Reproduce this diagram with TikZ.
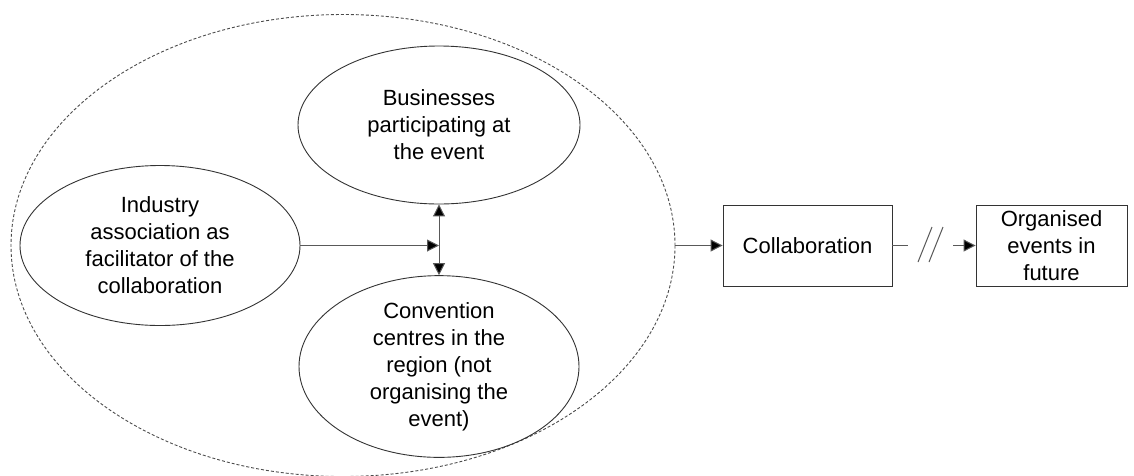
\documentclass[tikz,border=0pt]{standalone}
\usepackage{fontspec}
\setmainfont{Liberation Sans}
\usetikzlibrary{shapes.geometric,arrows.meta}
\begin{document}
\begin{tikzpicture}[x=1pt,y=-1pt,
  txt/.style={font=\fontsize{22}{27}\selectfont,align=center,text=black},
  oval/.style={draw=black!80,line width=0.9pt,ellipse,inner sep=0pt,txt},
  box/.style={draw=black!80,line width=0.9pt,rectangle,inner sep=0pt,txt},
  conn/.style={draw=black!65,line width=1pt},
  arr/.style={conn,-{Triangle[length=12pt,width=12pt,fill=black]}},
  darr/.style={conn,{Triangle[length=12pt,width=12pt,fill=black]}-{Triangle[length=12pt,width=12pt,fill=black]}},
  group/.style={draw=black!70,line width=0.9pt,dash pattern=on 3pt off 2pt,ellipse,inner sep=0pt}]
\useasboundingbox (0,0) rectangle (1134,475);
\node[group,minimum width=664pt,minimum height=462pt] (grp) at (343,245.5) {};
\node[oval,minimum width=280pt,minimum height=160pt] (ind) at (160,245.5) {Industry\\association as\\facilitator of the\\collaboration};
\node[oval,minimum width=282pt,minimum height=158pt] (biz) at (439,125) {Businesses\\participating at\\the event};
\node[oval,minimum width=280pt,minimum height=159pt] (conv) at (439,366.5) {Convention\\centres in the\\region (not\\organising the\\event)};
\node[box,minimum width=169pt,minimum height=81pt] (collab) at (807.5,245.5) {Collaboration};
\node[box,minimum width=151pt,minimum height=81pt] (org) at (1051.5,245.5) {Organised\\events in\\future};
\coordinate (mid) at (biz.south |- ind.east);
\draw[arr] (ind.east) -- (mid);
\draw[darr] (biz.south) -- (conv.north);
\draw[arr] (grp.east) -- (collab.west);
\coordinate (b1) at (908,245.5);
\coordinate (b2) at (953,245.5);
\draw[conn] (collab.east) -- (b1);
\draw[conn] (918,262) -- (932,227);
\draw[conn] (929,262) -- (943,227);
\draw[arr] (b2) -- (org.west);
\end{tikzpicture}
\end{document}
